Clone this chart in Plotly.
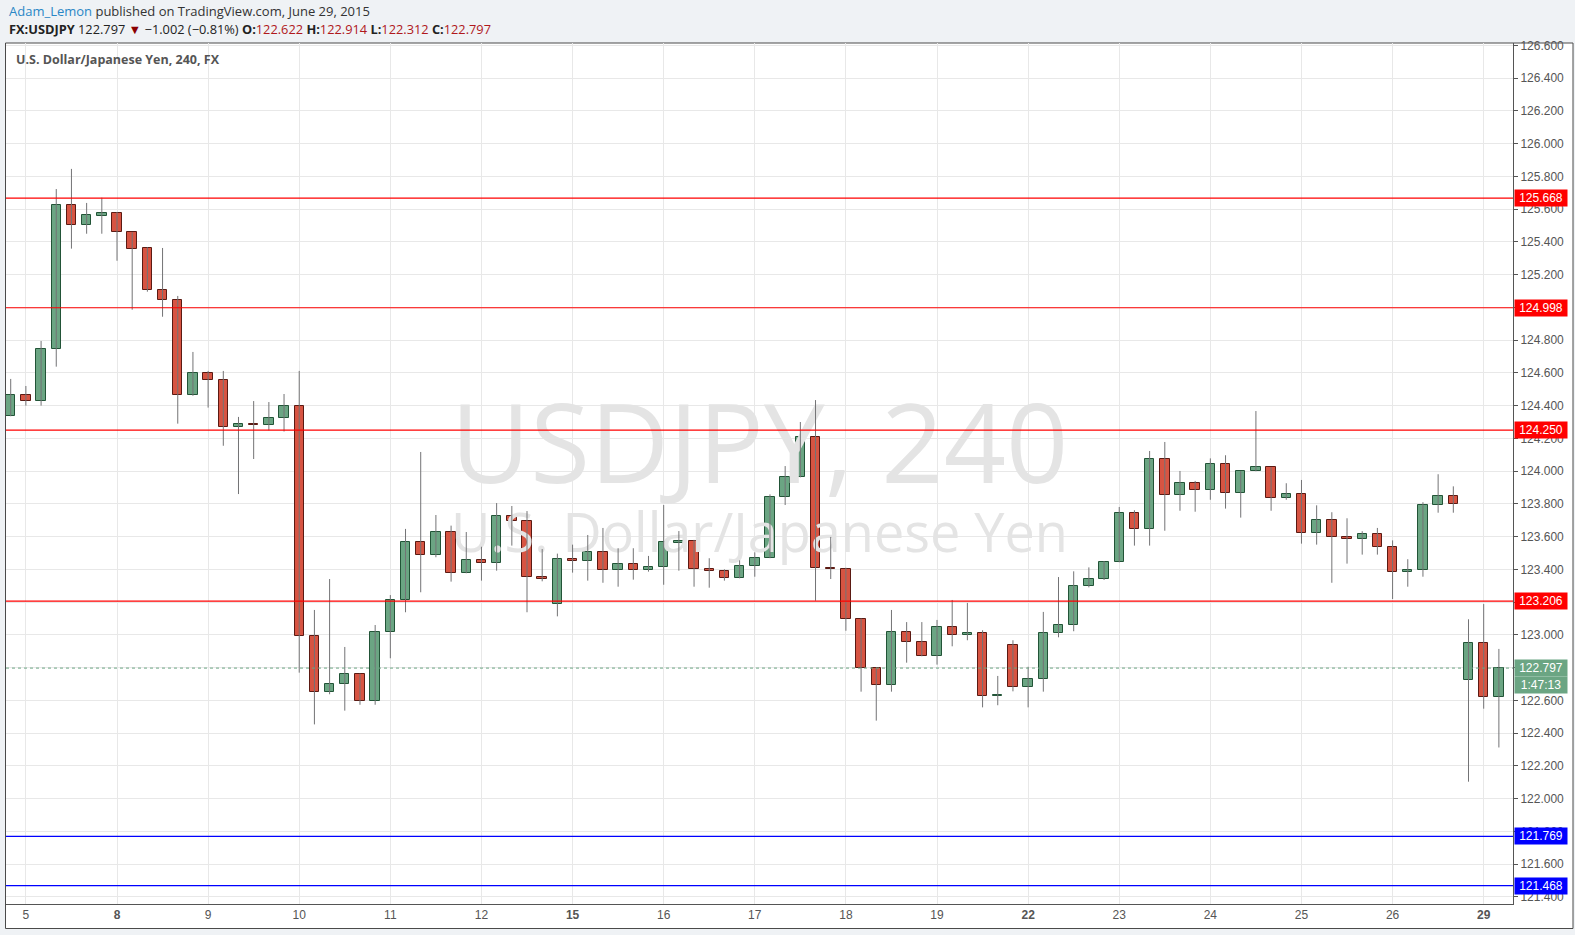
import plotly.graph_objects as go

# ---------------- data (USD/JPY, 240-minute candles) ----------------
opens = [124.335, 124.463, 124.427, 124.744, 125.624, 125.502, 125.557, 125.575, 125.459, 125.361,
         125.105, 125.044, 124.464, 124.598, 124.555, 124.268, 124.288, 124.280, 124.323, 124.396,
         122.991, 122.649, 122.698, 122.759, 122.594, 123.015, 123.211, 123.565, 123.486, 123.626,
         123.376, 123.455, 123.437, 123.724, 123.694, 123.351, 123.187, 123.461, 123.449, 123.504,
         123.394, 123.431, 123.394, 123.412, 123.559, 123.571, 123.400, 123.388, 123.345, 123.419,
         123.468, 123.840, 123.962, 124.207, 123.410, 123.400, 123.095, 122.796, 122.694, 123.015,
         122.954, 122.869, 123.046, 122.997, 123.009, 122.624, 122.936, 122.680, 122.728, 123.009,
         123.058, 123.297, 123.339, 123.443, 123.742, 123.645, 124.072, 123.852, 123.926, 123.883,
         124.042, 123.865, 123.999, 124.023, 123.834, 123.858, 123.620, 123.700, 123.596, 123.584,
         123.614, 123.535, 123.382, 123.394, 123.791, 123.846, 122.722, 122.948, 122.622]
highs = [124.563, 124.520, 124.795, 125.723, 125.846, 125.638, 125.670, 125.583, 125.459, 125.367,
         125.363, 125.070, 124.728, 124.612, 124.612, 124.331, 124.428, 124.422, 124.471, 124.612,
         123.152, 123.341, 122.926, 122.763, 123.060, 123.243, 123.647, 124.117, 123.732, 123.667,
         123.628, 123.538, 123.805, 123.787, 123.756, 123.524, 123.496, 123.551, 123.610, 123.653,
         123.529, 123.529, 123.482, 123.793, 123.634, 123.580, 123.468, 123.400, 123.455, 123.504,
         123.858, 124.031, 124.300, 124.434, 123.598, 123.410, 123.100, 122.800, 123.152, 123.078,
         123.078, 123.091, 123.213, 123.195, 123.028, 122.749, 122.967, 122.805, 123.140, 123.353,
         123.388, 123.412, 123.450, 123.781, 123.761, 124.123, 124.178, 124.001, 123.940, 124.078,
         124.097, 124.000, 124.367, 124.023, 123.926, 123.946, 123.791, 123.749, 123.712, 123.633,
         123.653, 123.577, 123.462, 123.810, 123.981, 123.907, 123.095, 123.188, 122.914]
lows = [124.335, 124.400, 124.400, 124.638, 125.359, 125.450, 125.450, 125.285, 124.986, 125.096,
        124.943, 124.290, 124.460, 124.388, 124.155, 123.860, 124.074, 124.249, 124.242, 122.769,
        122.453, 122.637, 122.537, 122.573, 122.573, 122.857, 123.138, 123.260, 123.474, 123.325,
        123.376, 123.331, 123.392, 123.545, 123.138, 123.327, 123.113, 123.380, 123.331, 123.318,
        123.294, 123.337, 123.386, 123.306, 123.392, 123.294, 123.288, 123.331, 123.345, 123.355,
        123.468, 123.793, 123.962, 123.208, 123.341, 123.025, 122.653, 122.476, 122.653, 122.830,
        122.869, 122.818, 122.930, 122.967, 122.557, 122.570, 122.655, 122.557, 122.653, 122.985,
        123.022, 123.290, 123.335, 123.443, 123.545, 123.545, 123.636, 123.758, 123.752, 123.825,
        123.771, 123.716, 123.999, 123.758, 123.825, 123.557, 123.551, 123.318, 123.435, 123.490,
        123.490, 123.219, 123.294, 123.355, 123.746, 123.746, 122.103, 122.549, 122.312]
closes = [124.464, 124.427, 124.744, 125.624, 125.502, 125.563, 125.575, 125.459, 125.359, 125.105,
          125.044, 124.464, 124.598, 124.555, 124.268, 124.286, 124.282, 124.323, 124.396, 122.991,
          122.649, 122.698, 122.759, 122.594, 123.015, 123.211, 123.565, 123.486, 123.626, 123.376,
          123.455, 123.437, 123.724, 123.694, 123.351, 123.339, 123.461, 123.449, 123.504, 123.394,
          123.431, 123.394, 123.412, 123.565, 123.571, 123.400, 123.388, 123.345, 123.419, 123.468,
          123.840, 123.962, 124.207, 123.410, 123.400, 123.095, 122.796, 122.694, 123.015, 122.954,
          122.869, 123.046, 122.997, 123.009, 122.625, 122.626, 122.680, 122.728, 123.009, 123.058,
          123.297, 123.339, 123.443, 123.742, 123.645, 124.072, 123.852, 123.926, 123.883, 124.042,
          123.865, 123.999, 124.023, 123.834, 123.858, 123.620, 123.700, 123.596, 123.584, 123.614,
          123.535, 123.382, 123.394, 123.791, 123.846, 123.797, 122.948, 122.622, 122.797]

day_labels = ["5", "8", "9", "10", "11", "12", "15", "16", "17", "18", "19",
              "22", "23", "24", "25", "26", "29"]
week_start_days = ["8", "15", "22", "29"]
day_first_bar = [1, 7, 13, 19, 25, 31, 37, 43, 49, 55, 61, 67, 73, 79, 85, 91, 97]

red_levels = [125.668, 124.998, 124.250, 123.206]
blue_levels = [121.769, 121.468]
last_price = 122.797
countdown = "1:47:13"

# ---------------- styling ----------------
W, H = 1575, 935
PL, PR, PT, PB = 6, 1513, 43, 904
UP_FILL, UP_LINE = "#6ba583", "#225437"
DN_FILL, DN_LINE = "#d75442", "#5b1a13"
WICK = "#737375"
GRID = "#e8e8e8"
AXIS = "#555555"

x_range = [-0.31, 98.93]
y_range = [121.356, 126.615]


def px(x):
    return (x - PL) / (PR - PL)


def py(y):
    return (PB - y) / (PB - PT)


n = len(opens)
xs = list(range(n))

fig = go.Figure()

# watermark (behind candles)
xm = (x_range[0] + x_range[1]) / 2
span = y_range[1] - y_range[0]
fig.add_trace(go.Scatter(
    x=[xm, xm],
    y=[y_range[1] - 0.479 * span, y_range[1] - 0.575 * span],
    mode="text",
    text=["USDJPY, 240", "U.S. Dollar/Japanese Yen"],
    textfont=dict(family="Open Sans", size=[109, 54], color="#e4e4e4"),
    hoverinfo="skip", showlegend=False,
))

# wicks
wx, wy = [], []
for i in range(n):
    wx += [i, i, None]
    wy += [lows[i], highs[i], None]
fig.add_trace(go.Scatter(x=wx, y=wy, mode="lines",
                         line=dict(color=WICK, width=1),
                         hoverinfo="skip", showlegend=False))

# bodies
base = [min(o, c) for o, c in zip(opens, closes)]
height = [max(abs(c - o), 0.008) for o, c in zip(opens, closes)]
up = [c >= o for o, c in zip(opens, closes)]
fig.add_trace(go.Bar(
    x=xs, y=height, base=base, width=0.62,
    marker=dict(color=[UP_FILL if u else DN_FILL for u in up],
                line=dict(color=[UP_LINE if u else DN_LINE for u in up], width=1)),
    hoverinfo="skip", showlegend=False,
))

shapes = []
# outer white panel with frame
shapes.append(dict(type="rect", xref="paper", yref="paper",
                   x0=px(5.5), x1=px(1573), y0=py(928.5), y1=py(43),
                   fillcolor="white", line=dict(color="#4a4a4a", width=1), layer="below"))
# level lines
for lv in red_levels:
    shapes.append(dict(type="line", xref="paper", yref="y", x0=0, x1=1, y0=lv, y1=lv,
                       line=dict(color="#ff0000", width=1.2)))
for lv in blue_levels:
    shapes.append(dict(type="line", xref="paper", yref="y", x0=0, x1=1, y0=lv, y1=lv,
                       line=dict(color="#0000ff", width=1.2)))
shapes.append(dict(type="line", xref="paper", yref="y", x0=0, x1=1, y0=last_price, y1=last_price,
                   line=dict(color=UP_FILL, width=1, dash="dot")))

annotations = []
hdr_font = "Open Sans"
annotations.append(dict(
    xref="paper", yref="paper", x=px(7), y=py(11), xanchor="left", yanchor="middle",
    showarrow=False, font=dict(family=hdr_font, size=13, color="#333333"),
    text="<span style='color:#2a87c6'>Adam_Lemon</span> published on TradingView.com, June 29, 2015"))
red_txt = "#b0181c"
annotations.append(dict(
    xref="paper", yref="paper", x=px(7), y=py(29), xanchor="left", yanchor="middle",
    showarrow=False, font=dict(family=hdr_font, size=12.8, color="#222222"),
    text=("<b>FX:USDJPY</b> 122.797 <span style='color:#8b0000'>▼</span> −1.002 (−0.81%) "
          f"<b>O:</b><span style='color:{red_txt}'>{opens[-1]:.3f}</span> "
          f"<b>H:</b><span style='color:{red_txt}'>{highs[-1]:.3f}</span> "
          f"<b>L:</b><span style='color:{red_txt}'>{lows[-1]:.3f}</span> "
          f"<b>C:</b><span style='color:{red_txt}'>{closes[-1]:.3f}</span>")))
annotations.append(dict(
    xref="paper", yref="paper", x=px(14), y=py(60), xanchor="left", yanchor="middle",
    showarrow=False, font=dict(family=hdr_font, size=12.5, color="#555555"),
    text="<b>U.S. Dollar/Japanese Yen, 240, FX</b>"))


def price_label(val, bg, text=None, yshift=0):
    return dict(xref="paper", yref="y", x=1, y=val, xanchor="left", yanchor="middle",
                xshift=1, yshift=yshift, showarrow=False,
                text=text if text is not None else f"{val:.3f}",
                font=dict(family="Liberation Sans", size=12, color="white"),
                bgcolor=bg, width=50, height=14, borderpad=1, align="center")


for lv in red_levels:
    annotations.append(price_label(lv, "#ff0000"))
for lv in blue_levels:
    annotations.append(price_label(lv, "#0000ff"))
annotations.append(price_label(last_price, UP_FILL))
annotations.append(price_label(last_price, UP_FILL, text=countdown, yshift=-17))

ticktext = [f"<b>{d}</b>" if d in week_start_days else d for d in day_labels]

fig.update_layout(
    width=W, height=H,
    margin=dict(l=PL, r=W - PR, t=PT, b=H - PB, pad=0),
    paper_bgcolor="#eff2f5",
    plot_bgcolor="rgba(0,0,0,0)",
    showlegend=False,
    bargap=0,
    shapes=shapes,
    annotations=annotations,
    xaxis=dict(range=x_range, tickmode="array", tickvals=day_first_bar, ticktext=ticktext,
               showgrid=True, gridcolor=GRID, gridwidth=1, zeroline=False,
               showline=True, linecolor=AXIS, linewidth=1, ticks="",
               tickfont=dict(family="Liberation Sans Narrow, Liberation Sans", size=12, color=AXIS),
               fixedrange=True),
    yaxis=dict(range=y_range, side="right", dtick=0.2, tick0=0, tickformat=".3f",
               showgrid=True, gridcolor=GRID, gridwidth=1, zeroline=False,
               showline=True, linecolor=AXIS, linewidth=1,
               ticks="outside", ticklen=4, tickcolor=AXIS,
               tickfont=dict(family="Liberation Sans", size=12, color=AXIS),
               fixedrange=True),
)

fig.write_html("out.html", config={"displayModeBar": False},
               post_script="document.body.style.margin='0';document.body.style.overflow='hidden';")
